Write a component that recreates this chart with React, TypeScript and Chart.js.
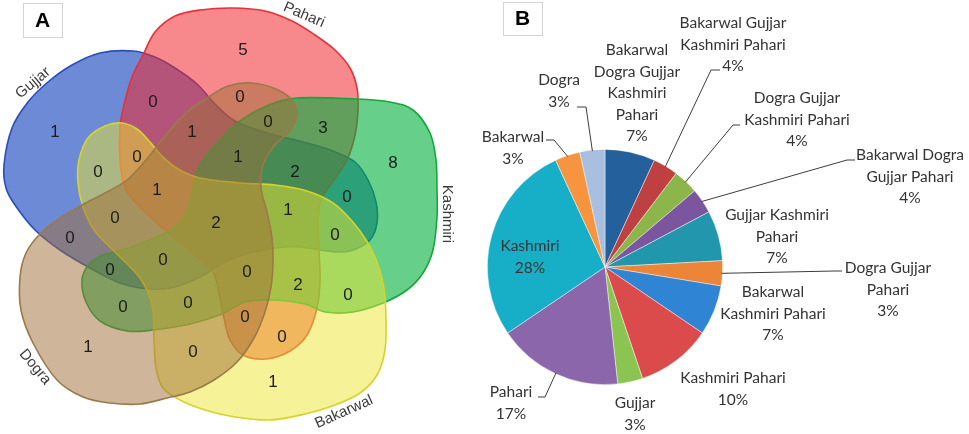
import React, { useEffect, useRef } from 'react';
import { Chart, registerables } from 'chart.js';

Chart.register(...registerables);

// ---------------- Panel A data (5-set Venn) ----------------
const vennSets = ['Gujjar', 'Pahari', 'Kashmiri', 'Bakarwal', 'Dogra'];
const vennRegions = ['G', 'GP', 'P', 'PD', 'PKD', 'PK', 'K', 'GPD', 'GPB', 'GB', 'GPKD', 'GPK', 'GPBD', 'GK', 'GBD', 'GPKBD', 'GPKB', 'GD', 'GKB', 'GKD', 'GKBD', 'PKBD', 'PKB', 'KB', 'KD', 'KBD', 'PBD', 'PB', 'D', 'BD', 'B'];
const vennCounts = [1, 0, 5, 0, 0, 3, 8, 1, 0, 0, 1, 2, 1, 0, 0, 2, 1, 0, 0, 0, 0, 0, 2, 0, 0, 0, 0, 0, 1, 0, 1];

// ---------------- Panel B data (pie) ----------------
const pieCategories = [
  'Bakarwal Dogra Gujjar Kashmiri Pahari',
  'Bakarwal Gujjar Kashmiri Pahari',
  'Dogra Gujjar Kashmiri Pahari',
  'Bakarwal Dogra Gujjar Pahari',
  'Gujjar Kashmiri Pahari',
  'Dogra Gujjar Pahari',
  'Bakarwal Kashmiri Pahari',
  'Kashmiri Pahari',
  'Gujjar',
  'Pahari',
  'Kashmiri',
  'Bakarwal',
  'Dogra',
];
const pieValues = [2, 1, 1, 1, 2, 1, 2, 3, 1, 5, 8, 1, 1];
const piePercentText = ['7%', '4%', '4%', '4%', '7%', '3%', '7%', '10%', '3%', '17%', '28%', '3%', '3%'];

// ---------------- Layout / style (not data) ----------------
// outlines of the five set shapes, in panel-A value space (x right, y down)
const SET_OUTLINES: Record<string, number[][]> = {
  Gujjar: [
    [4, 165], [12, 128], [28, 102], [48, 82], [72, 65], [100, 53], [133, 51], [155, 57], [175, 68], [197, 84],
    [215, 104], [235, 121], [267, 133], [303, 142], [333, 151], [355, 162], [368, 180], [376, 202], [377, 223],
    [370, 240], [350, 251], [327, 251], [300, 247], [275, 248], [250, 253], [225, 262], [200, 277], [175, 287],
    [150, 289], [120, 283], [90, 268], [60, 250], [35, 230], [15, 205], [6, 188],
  ],
  Pahari: [
    [143, 55], [155, 32], [175, 16], [200, 10], [233, 8], [265, 11], [292, 21], [315, 35], [335, 50], [350, 68],
    [357, 88], [358, 110], [355, 135], [347, 160], [333, 181], [321, 200], [318, 222], [319, 250], [320, 280],
    [317, 308], [307, 335], [290, 351], [266, 359], [243, 355], [230, 340], [224, 318], [219, 293], [213, 272],
    [195, 255], [165, 230], [140, 207], [125, 188], [120, 160], [120, 127], [124, 105], [132, 77],
  ],
  Kashmiri: [
    [297, 98], [357, 99], [390, 102], [413, 110], [430, 133], [436, 160], [437, 190], [437, 217], [433, 250],
    [423, 273], [407, 290], [383, 303], [353, 312], [325, 312], [305, 304], [275, 300], [245, 302], [222, 314],
    [190, 324], [153, 330], [127, 331], [100, 321], [86, 302], [82, 280], [89, 264], [103, 255], [125, 249],
    [150, 240], [172, 229], [186, 213], [192, 193], [200, 165], [220, 140], [240, 121], [267, 106],
  ],
  Bakarwal: [
    [79, 160], [88, 138], [105, 126], [122, 123], [137, 129], [150, 142], [162, 156], [178, 169], [200, 178],
    [240, 183], [275, 185], [307, 191], [333, 203], [352, 221], [366, 240], [377, 262], [384, 288], [386, 320],
    [385, 350], [377, 375], [360, 393], [335, 405], [305, 414], [270, 420], [235, 417], [205, 410], [180, 400],
    [163, 388], [156, 368], [154, 340], [152, 305], [140, 278], [115, 252], [94, 230], [83, 207], [78, 183],
  ],
  Dogra: [
    [20, 277], [21, 310], [33, 343], [57, 380], [83, 397], [110, 403], [140, 404], [167, 398], [190, 392],
    [214, 380], [237, 362], [254, 338], [265, 312], [271, 287], [273, 262], [272, 238], [267, 212], [261, 188],
    [263, 165], [274, 146], [289, 132], [297, 116], [293, 101], [276, 89], [252, 83], [228, 86], [207, 98],
    [186, 113], [165, 136], [146, 160], [127, 180], [105, 193], [82, 205], [60, 218], [40, 234], [26, 253],
  ],
};
const SET_STYLE: Record<string, { fill: string; stroke: string }> = {
  Gujjar: { fill: 'rgba(10,60,185,0.6)', stroke: '#2a4db8' },
  Pahari: { fill: 'rgba(240,40,45,0.55)', stroke: '#e8303a' },
  Kashmiri: { fill: 'rgba(0,175,60,0.6)', stroke: '#13a83a' },
  Bakarwal: { fill: 'rgba(235,230,50,0.5)', stroke: '#d6d42a' },
  Dogra: { fill: 'rgba(160,110,55,0.5)', stroke: '#9a7a48' },
};
const SET_LABEL_POS: Record<string, { x: number; y: number; a: number }> = {
  Gujjar: { x: 33, y: 83, a: -40 },
  Pahari: { x: 304, y: 15, a: 23 },
  Kashmiri: { x: 447, y: 214, a: 90 },
  Bakarwal: { x: 344, y: 412, a: -24 },
  Dogra: { x: 35, y: 367, a: 50 },
};
const REGION_ANCHORS: number[][] = [
  [55, 132], [153, 102], [243, 50], [240, 97], [268, 122], [323, 128], [393, 163], [192, 132], [137, 157], [98, 172],
  [238, 157], [295, 172], [157, 190], [347, 197], [115, 218], [216, 223], [288, 210], [70, 238], [335, 235], [110, 270],
  [163, 260], [247, 272], [298, 285], [348, 295], [123, 307], [188, 303], [245, 317], [282, 337], [88, 347], [193, 352], [273, 382],
];

const PIE_COLORS = ['#24609c', '#be4040', '#8cb54a', '#7b569f', '#2196ad', '#ec8537', '#2f84d3', '#dc4b4b', '#8cc451', '#8b66ab', '#17afc8', '#f7943f', '#a9bfe0'];
const PIE_OFFSET_X = 480;
// words per line for each label, then the percent on its own line
const PIE_WRAP: number[][] = [[1, 2, 1, 1], [2, 2], [2, 2], [2, 2], [2, 1], [2, 1], [1, 2], [2], [1], [1], [1], [1], [1]];
const PIE_LABEL_POS: number[][] = [
  [637, 50], [733, 23], [797, 98], [910, 155], [777, 215], [888, 268], [773, 292], [733, 378], [635, 403], [511, 392], [530, 246], [513, 137], [559, 80],
];
const PIE_LEADERS: (number[][] | null)[] = [
  null,
  [[711, 70], [720, 70]],
  [[733, 125], [740, 125]],
  [[847, 160], [855, 160]],
  null,
  [[835, 271], [842, 271]],
  null,
  null,
  null,
  [[545, 397], [538, 397]],
  null,
  [[554, 140], [546, 140]],
  [[586, 107], [577, 107]],
];
const PIE_LINE_H = 21.5;

function closedSpline(ctx: CanvasRenderingContext2D, pts: number[][]) {
  const n = pts.length;
  ctx.beginPath();
  ctx.moveTo(pts[0][0], pts[0][1]);
  for (let i = 0; i < n; i++) {
    const p0 = pts[(i - 1 + n) % n], p1 = pts[i], p2 = pts[(i + 1) % n], p3 = pts[(i + 2) % n];
    const t = 1 / 6;
    ctx.bezierCurveTo(
      p1[0] + (p2[0] - p0[0]) * t, p1[1] + (p2[1] - p0[1]) * t,
      p2[0] - (p3[0] - p1[0]) * t, p2[1] - (p3[1] - p1[1]) * t,
      p2[0], p2[1]
    );
  }
  ctx.closePath();
}

function drawBox(ctx: CanvasRenderingContext2D, x: number, y: number, w: number, h: number, letter: string) {
  ctx.save();
  ctx.fillStyle = '#ffffff';
  ctx.fillRect(x, y, w, h);
  ctx.strokeStyle = '#d4d4d4';
  ctx.lineWidth = 1;
  ctx.strokeRect(x + 0.5, y + 0.5, w, h);
  ctx.fillStyle = '#000';
  ctx.font = 'bold 21px "Liberation Sans", Arial, sans-serif';
  ctx.textAlign = 'center';
  ctx.textBaseline = 'middle';
  ctx.fillText(letter, x + w / 2, y + h / 2 + 1);
  ctx.restore();
}

const vennPlugin = {
  id: 'vennShapes',
  beforeDatasetsDraw(chart: any) {
    const ctx = chart.ctx as CanvasRenderingContext2D;
    const xs = chart.scales.x, ys = chart.scales.y;
    ctx.save();
    vennSets.forEach((name) => {
      const pts = SET_OUTLINES[name].map(([px, py]) => [xs.getPixelForValue(px), ys.getPixelForValue(py)]);
      closedSpline(ctx, pts);
      ctx.fillStyle = SET_STYLE[name].fill;
      ctx.fill();
      ctx.lineWidth = 1.6;
      ctx.strokeStyle = SET_STYLE[name].stroke;
      ctx.stroke();
    });
    ctx.restore();
  },
  afterDatasetsDraw(chart: any) {
    const ctx = chart.ctx as CanvasRenderingContext2D;
    const xs = chart.scales.x, ys = chart.scales.y;
    const meta = chart.getDatasetMeta(0);
    ctx.save();
    ctx.fillStyle = '#1c1c1c';
    ctx.font = '17px "Liberation Sans", Arial, sans-serif';
    ctx.textAlign = 'center';
    ctx.textBaseline = 'middle';
    meta.data.forEach((el: any, i: number) => {
      ctx.fillText(String(vennCounts[i]), el.x, el.y);
    });
    ctx.fillStyle = '#3a3a3a';
    ctx.font = '15px "Liberation Sans", Arial, sans-serif';
    vennSets.forEach((name) => {
      const p = SET_LABEL_POS[name];
      ctx.save();
      ctx.translate(xs.getPixelForValue(p.x), ys.getPixelForValue(p.y));
      ctx.rotate((p.a * Math.PI) / 180);
      ctx.fillText(name, 0, 0);
      ctx.restore();
    });
    ctx.restore();
    drawBox(ctx, 23, 3, 39, 34, 'A');
  },
};

const piePlugin = {
  id: 'pieCallouts',
  afterDatasetsDraw(chart: any) {
    const ctx = chart.ctx as CanvasRenderingContext2D;
    const meta = chart.getDatasetMeta(0);
    ctx.save();
    ctx.strokeStyle = '#3c3c3c';
    ctx.lineWidth = 1;
    meta.data.forEach((arc: any, i: number) => {
      const lead = PIE_LEADERS[i];
      if (!lead) return;
      const { x, y, startAngle, endAngle, outerRadius } = arc.getProps(['x', 'y', 'startAngle', 'endAngle', 'outerRadius'], true);
      const mid = (startAngle + endAngle) / 2;
      const ex = x + Math.cos(mid) * (outerRadius - 1);
      const ey = y + Math.sin(mid) * (outerRadius - 1);
      ctx.beginPath();
      ctx.moveTo(ex, ey);
      lead.forEach(([lx, ly]) => ctx.lineTo(lx - PIE_OFFSET_X, ly));
      ctx.stroke();
    });
    ctx.fillStyle = '#333333';
    ctx.font = '15.5px Lato, "Open Sans", sans-serif';
    ctx.textAlign = 'center';
    ctx.textBaseline = 'middle';
    pieCategories.forEach((cat, i) => {
      const words = cat.split(' ');
      const lines: string[] = [];
      let k = 0;
      PIE_WRAP[i].forEach((n) => {
        lines.push(words.slice(k, k + n).join(' '));
        k += n;
      });
      lines.push(piePercentText[i]);
      const [cx, y0] = PIE_LABEL_POS[i];
      lines.forEach((ln, j) => ctx.fillText(ln, cx - PIE_OFFSET_X, y0 + j * PIE_LINE_H));
    });
    ctx.restore();
    drawBox(ctx, 23, 2, 39, 33, 'B');
  },
};

export default function App() {
  const vennRef = useRef<HTMLCanvasElement>(null);
  const pieRef = useRef<HTMLCanvasElement>(null);

  useEffect(() => {
    const venn = new Chart(vennRef.current as HTMLCanvasElement, {
      type: 'scatter',
      data: {
        datasets: [
          {
            label: 'regions',
            data: REGION_ANCHORS.map((a, i) => ({ x: a[0], y: a[1], region: vennRegions[i] })) as any,
            pointRadius: 0,
            pointHoverRadius: 0,
          },
        ],
      },
      options: {
        animation: false,
        responsive: false,
        events: [],
        layout: { padding: 0 },
        plugins: { legend: { display: false }, tooltip: { enabled: false } },
        scales: {
          x: { type: 'linear', min: 0, max: 480, display: false },
          y: { type: 'linear', min: 0, max: 434, reverse: true, display: false },
        },
      },
      plugins: [vennPlugin],
    });

    const pie = new Chart(pieRef.current as HTMLCanvasElement, {
      type: 'pie',
      data: {
        labels: pieCategories,
        datasets: [
          {
            data: pieValues,
            backgroundColor: PIE_COLORS,
            borderColor: 'rgba(255,255,255,0.55)',
            borderWidth: 0.8,
          },
        ],
      },
      options: {
        animation: false,
        responsive: false,
        events: [],
        layout: { padding: { left: 7, right: 246, top: 149, bottom: 49 } },
        plugins: { legend: { display: false }, tooltip: { enabled: false } },
      },
      plugins: [piePlugin],
    });

    return () => {
      venn.destroy();
      pie.destroy();
    };
  }, []);

  return (
    <div style={{ position: 'fixed', left: 0, top: 0, width: 969, height: 434, background: '#ffffff', overflow: 'hidden' }}>
      <canvas ref={vennRef} width={480} height={434} style={{ position: 'absolute', left: 0, top: 0, width: 480, height: 434 }} />
      <canvas ref={pieRef} width={489} height={434} style={{ position: 'absolute', left: 480, top: 0, width: 489, height: 434 }} />
    </div>
  );
}
